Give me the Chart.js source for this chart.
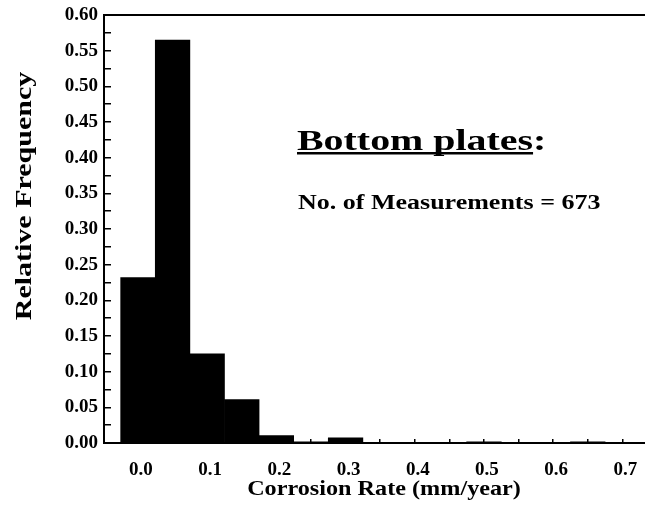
<!DOCTYPE html>
<html>
<head>
<meta charset="utf-8">
<script src="https://cdn.jsdelivr.net/npm/chart.js@4/dist/chart.umd.min.js"></script>
<style>
  html, body { margin: 0; padding: 0; background: #fff; }
  #wrap { width: 645px; height: 511px; }
</style>
</head>
<body>
<div id="wrap"><canvas id="myChart" width="645" height="511"></canvas></div>
<script>
// histogram data (bin centres in mm/year)
const binCenters = [0.00, 0.05, 0.10, 0.15, 0.20, 0.25, 0.30, 0.50, 0.65];
const relFreq = [0.232, 0.565, 0.125, 0.061, 0.0104, 0.0015, 0.0074, 0.0015, 0.0015];

// tick marks (labels only every 0.1 on x, every 0.05 on y)
const xTickValues = [0.00, 0.05, 0.10, 0.15, 0.20, 0.25, 0.30, 0.35, 0.40, 0.45, 0.50, 0.55, 0.60, 0.65, 0.70];
const xTickLabels = ['0.0', '', '0.1', '', '0.2', '', '0.3', '', '0.4', '', '0.5', '', '0.6', '', '0.7'];
const yTickValues = [0, 0.025, 0.05, 0.075, 0.10, 0.125, 0.15, 0.175, 0.20, 0.225, 0.25, 0.275, 0.30,
    0.325, 0.35, 0.375, 0.40, 0.425, 0.45, 0.475, 0.50, 0.525, 0.55, 0.575, 0.60];
const yTickLabels = ['0.00', '', '0.05', '', '0.10', '', '0.15', '', '0.20', '', '0.25', '', '0.30',
    '', '0.35', '', '0.40', '', '0.45', '', '0.50', '', '0.55', '', '0.60'];

const titleText = 'Bottom plates:';
const noteText = 'No. of Measurements = 673';
const xTitle = 'Corrosion Rate (mm/year)';
const yTitle = 'Relative Frequency';

const serif = '"Liberation Serif", "Times New Roman", serif';

// stretched text like in the scanned figure
function drawText(ctx, text, x, y, size, sx, align, rotate) {
    ctx.save();
    ctx.translate(x, y);
    if (rotate) ctx.rotate(-Math.PI / 2);
    ctx.scale(sx, 1);
    ctx.font = 'bold ' + size + 'px ' + serif;
    ctx.textAlign = align;
    ctx.textBaseline = 'alphabetic';
    ctx.fillStyle = '#000';
    ctx.fillText(text, 0, 0);
    ctx.restore();
}

const extras = {
    id: 'extras',
    afterDraw(chart) {
        const ctx = chart.ctx;
        const area = chart.chartArea;

        // top frame line
        ctx.save();
        ctx.strokeStyle = '#000';
        ctx.lineWidth = 2;
        ctx.beginPath();
        ctx.moveTo(area.left, area.top);
        ctx.lineTo(area.right, area.top);
        ctx.stroke();
        ctx.restore();

        // heading with underline (colon not underlined)
        drawText(ctx, titleText, 297, 150, 30, 1.33, 'left', false);
        ctx.save();
        ctx.font = 'bold 30px ' + serif;
        let uw = ctx.measureText(titleText.replace(':', '')).width * 1.33;
        ctx.restore();
        ctx.fillStyle = '#000';
        ctx.fillRect(297, 152, uw, 2.5);

        drawText(ctx, noteText, 298, 209, 20, 1.3, 'left', false);

        // axis titles
        drawText(ctx, xTitle, 384, 495, 22, 1.1, 'center', false);
        drawText(ctx, yTitle, 31, 196, 24, 1.25, 'center', true);
    }
};

const ctx = document.getElementById('myChart');
new Chart(ctx, {
    type: 'bar',
    data: {
        datasets: [{
            data: binCenters.map((x, i) => ({ x: x, y: relFreq[i] })),
            backgroundColor: '#000',
            borderWidth: 0,
            barPercentage: 1,
            categoryPercentage: 1
        }]
    },
    options: {
        responsive: false,
        animation: false,
        layout: { padding: { top: 15, right: 0, left: 0, bottom: 0 } },
        plugins: { legend: { display: false }, tooltip: { enabled: false } },
        scales: {
            x: {
                type: 'linear',
                offset: false,
                min: -0.0491,
                max: 0.7327,
                afterBuildTicks: (s) => { s.ticks = xTickValues.map(v => ({ value: v })); },
                afterFit: (s) => { s.height = 68; s.paddingLeft = 0; s.paddingRight = 0; },
                border: { display: true, color: '#000', width: 2 },
                grid: { display: true, drawOnChartArea: false, drawTicks: true, tickLength: -4, color: '#000', lineWidth: 1.5, offset: false },
                ticks: {
                    autoSkip: false,
                    maxRotation: 0,
                    padding: 20,
                    labelOffset: 3,
                    color: '#000',
                    font: { family: serif, size: 19, weight: 'bold' },
                    callback: (v, i) => xTickLabels[i]
                }
            },
            y: {
                min: 0,
                max: 0.6,
                afterBuildTicks: (s) => { s.ticks = yTickValues.map(v => ({ value: v })); },
                afterFit: (s) => { s.width = 104; s.paddingTop = 0; s.paddingBottom = 0; },
                border: { display: true, color: '#000', width: 2 },
                grid: { display: true, drawOnChartArea: false, drawTicks: true, tickLength: -7, color: '#000', lineWidth: 1.5 },
                ticks: {
                    autoSkip: false,
                    padding: 13,
                    color: '#000',
                    font: { family: serif, size: 19, weight: 'bold' },
                    callback: (v, i) => yTickLabels[i]
                }
            }
        }
    },
    plugins: [extras]
});
</script>
</body>
</html>
